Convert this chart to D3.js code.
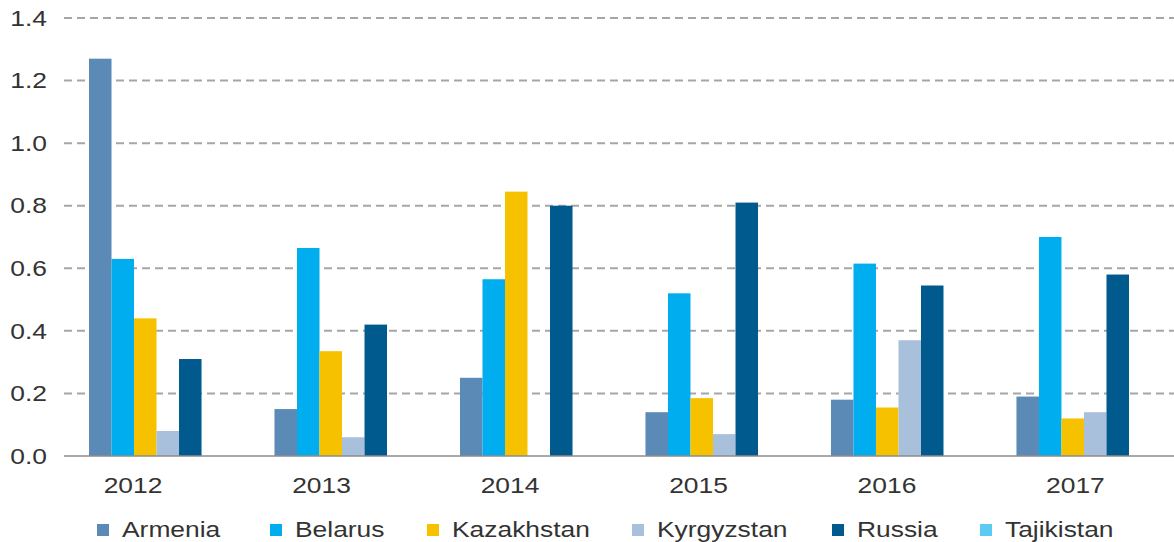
<!DOCTYPE html>
<html>
<head>
<meta charset="utf-8">
<script src="https://cdn.jsdelivr.net/npm/d3@7"></script>
<style>
  body { margin: 0; background: #fff; }
  svg text { font-family: "Liberation Sans", Arial, sans-serif; fill: #333; }
</style>
</head>
<body>
<div id="chart"></div>
<script>
const years = ['2012', '2013', '2014', '2015', '2016', '2017'];
const countries = ['Armenia', 'Belarus', 'Kazakhstan', 'Kyrgyzstan', 'Russia', 'Tajikistan'];
const colors = ['#5b8ab6', '#00aeef', '#f6c200', '#a9c0dd', '#005a8d', '#5ccaf2'];

const armenia = [1.27, 0.15, 0.25, 0.14, 0.18, 0.19];
const belarus = [0.63, 0.665, 0.565, 0.52, 0.615, 0.70];
const kazakhstan = [0.44, 0.335, 0.845, 0.185, 0.155, 0.12];
const kyrgyzstan = [0.08, 0.06, 0, 0.07, 0.37, 0.14];
const russia = [0.31, 0.42, 0.80, 0.81, 0.545, 0.58];
const tajikistan = [0, 0, 0, 0, 0, 0];

const yTicks = [0, 0.2, 0.4, 0.6, 0.8, 1.0, 1.2, 1.4];

const series = [armenia, belarus, kazakhstan, kyrgyzstan, russia, tajikistan];

const width = 1174;
const height = 542;
const plotLeft = 64;
const plotRight = 1174;
// the source text is a bit wider than Liberation Sans
const stretch = 1.2;

const svg = d3.select('#chart')
  .append('svg')
  .attr('width', width)
  .attr('height', height);

const y = d3.scaleLinear()
  .domain([0, 1.4])
  .range([456, 18]);

const x0 = d3.scaleBand()
  .domain(years)
  .range([89, 1151.5])
  .paddingInner(0.272)
  .paddingOuter(0);

const x1 = d3.scaleBand()
  .domain(countries)
  .range([0, x0.bandwidth()])
  .padding(0);

const color = d3.scaleOrdinal()
  .domain(countries)
  .range(colors);

// grid lines
svg.append('g')
  .selectAll('line')
  .data(yTicks.filter(d => d > 0))
  .enter()
  .append('line')
  .attr('x1', plotLeft)
  .attr('x2', plotRight)
  .attr('y1', d => y(d))
  .attr('y2', d => y(d))
  .attr('stroke', '#a6a6a6')
  .attr('stroke-width', 2)
  .attr('stroke-dasharray', '8,5');

// y labels
svg.append('g')
  .selectAll('text')
  .data(yTicks)
  .enter()
  .append('text')
  .attr('transform', d => `translate(47,${y(d)}) scale(${stretch},1)`)
  .attr('dy', '0.35em')
  .attr('text-anchor', 'end')
  .attr('font-size', '22px')
  .text(d => d.toFixed(1));

// bars
const groups = svg.append('g')
  .selectAll('g')
  .data(years)
  .enter()
  .append('g')
  .attr('transform', d => `translate(${x0(d)},0)`);

groups.selectAll('rect')
  .data((d, i) => countries.map((c, j) => ({ country: c, value: series[j][i] })))
  .enter()
  .append('rect')
  .filter(d => d.value > 0)
  .attr('x', d => x1(d.country))
  .attr('y', d => y(d.value))
  .attr('width', x1.bandwidth())
  .attr('height', d => y(0) - y(d.value))
  .attr('fill', d => color(d.country));

// baseline
svg.append('line')
  .attr('x1', plotLeft)
  .attr('x2', plotRight)
  .attr('y1', y(0))
  .attr('y2', y(0))
  .attr('stroke', '#8c8c8c')
  .attr('stroke-width', 1.5);

// year labels
svg.append('g')
  .selectAll('text')
  .data(years)
  .enter()
  .append('text')
  .attr('transform', (d, i) => `translate(${x0(d) + 44 + i * 3},493) scale(${stretch},1)`)
  .attr('text-anchor', 'middle')
  .attr('font-size', '22px')
  .text(d => d);

// legend
const legendX = [97, 270, 427, 632, 832, 980];
const legend = svg.append('g');

countries.forEach((c, i) => {
  const row = legend.append('g')
    .attr('transform', `translate(${legendX[i]}, 524)`);

  row.append('rect')
    .attr('width', 12)
    .attr('height', 12)
    .attr('fill', color(c));

  row.append('text')
    .attr('transform', `translate(25,13) scale(${stretch},1)`)
    .attr('font-size', '22px')
    .text(c);
});
</script>
</body>
</html>
